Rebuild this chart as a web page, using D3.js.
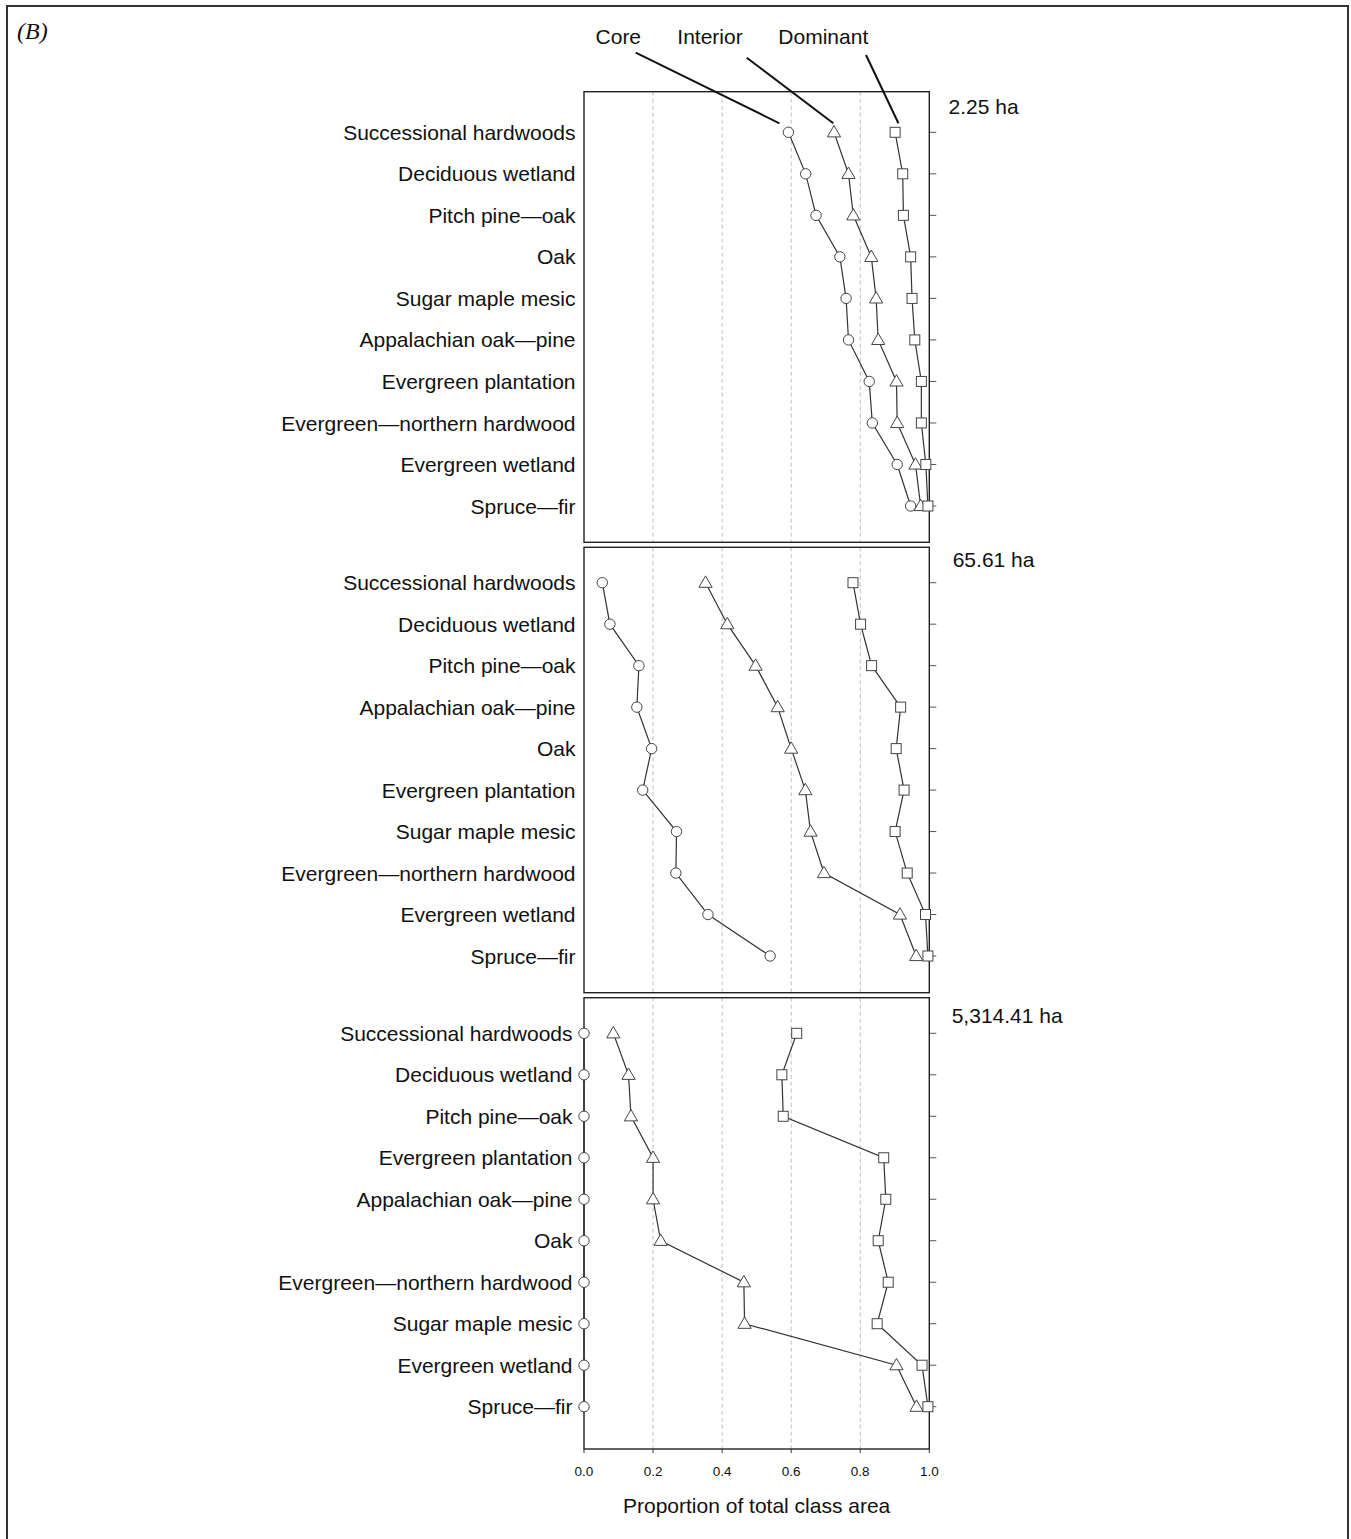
<!DOCTYPE html>
<html>
<head>
<meta charset="utf-8">
<script src="https://cdn.jsdelivr.net/npm/d3@7"></script>
<style>
  html, body { margin: 0; padding: 0; background: #fff; }
  svg { display: block; }
  text { font-family: "Liberation Sans", Arial, Helvetica, sans-serif; fill: #111; }
</style>
</head>
<body>
<svg id="chart" width="1351" height="1539"></svg>
<script>
// ---------------- DATA ----------------
const seriesNames = ["Core", "Interior", "Dominant"];
const panelLabels = ["2.25 ha", "65.61 ha", "5,314.41 ha"];
const xTicks = [0.0, 0.2, 0.4, 0.6, 0.8, 1.0];
const gridValues = [0.2, 0.4, 0.6, 0.8];

const categoriesA = ["Successional hardwoods", "Deciduous wetland", "Pitch pine\u2014oak", "Oak",
  "Sugar maple mesic", "Appalachian oak\u2014pine", "Evergreen plantation",
  "Evergreen\u2014northern hardwood", "Evergreen wetland", "Spruce\u2014fir"];
const coreA     = [0.592, 0.642, 0.672, 0.741, 0.759, 0.766, 0.826, 0.835, 0.907, 0.946];
const interiorA = [0.724, 0.766, 0.780, 0.832, 0.846, 0.852, 0.905, 0.907, 0.960, 0.975];
const dominantA = [0.901, 0.923, 0.925, 0.946, 0.950, 0.958, 0.977, 0.977, 0.990, 0.996];

const categoriesB = ["Successional hardwoods", "Deciduous wetland", "Pitch pine\u2014oak",
  "Appalachian oak\u2014pine", "Oak", "Evergreen plantation", "Sugar maple mesic",
  "Evergreen\u2014northern hardwood", "Evergreen wetland", "Spruce\u2014fir"];
const coreB     = [0.053, 0.075, 0.159, 0.153, 0.196, 0.170, 0.268, 0.266, 0.359, 0.539];
const interiorB = [0.352, 0.415, 0.497, 0.561, 0.600, 0.641, 0.656, 0.695, 0.915, 0.962];
const dominantB = [0.779, 0.801, 0.833, 0.917, 0.904, 0.927, 0.901, 0.936, 0.989, 0.996];

const categoriesC = ["Successional hardwoods", "Deciduous wetland", "Pitch pine\u2014oak",
  "Evergreen plantation", "Appalachian oak\u2014pine", "Oak", "Evergreen\u2014northern hardwood",
  "Sugar maple mesic", "Evergreen wetland", "Spruce\u2014fir"];
const coreC     = [0, 0, 0, 0, 0, 0, 0, 0, 0, 0];
const interiorC = [0.085, 0.129, 0.136, 0.200, 0.200, 0.222, 0.463, 0.465, 0.905, 0.963];
const dominantC = [0.616, 0.573, 0.577, 0.868, 0.874, 0.852, 0.881, 0.849, 0.979, 0.996];

// ---------------- LAYOUT ----------------
const panels = [
  { label: panelLabels[0], cats: categoriesA, series: [coreA, interiorA, dominantA],
    top: 91.7, bottom: 542.3, first: 132.3, last: 506.0, labelX: 948.5, labelY: 114.3, catRight: 575.5 },
  { label: panelLabels[1], cats: categoriesB, series: [coreB, interiorB, dominantB],
    top: 547.3, bottom: 992.7, first: 582.7, last: 956.0, labelX: 952.7, labelY: 566.7, catRight: 575.5 },
  { label: panelLabels[2], cats: categoriesC, series: [coreC, interiorC, dominantC],
    top: 997.7, bottom: 1449.0, first: 1033.3, last: 1406.7, labelX: 951.7, labelY: 1023.3, catRight: 572.5 }
];

const svg = d3.select("#chart");
const x = d3.scaleLinear().domain([0, 1]).range([584, 929.3]);

// outer figure border
svg.append("rect").attr("x", 7).attr("y", 6).attr("width", 1341).attr("height", 1545)
  .attr("fill", "none").attr("stroke", "#333").attr("stroke-width", 2);

svg.append("text").attr("x", 17).attr("y", 39)
  .style("font-family", "'Liberation Serif', 'Times New Roman', serif")
  .style("font-style", "italic").style("font-size", "24px").text("(B)");

const triPath = "M0,-6.8L6.6,4.6L-6.6,4.6Z";

function drawMarker(g, kind, cx, cy) {
  if (kind === 0) {
    g.append("circle").attr("cx", cx).attr("cy", cy).attr("r", 5.2)
      .attr("fill", "#fff").attr("stroke", "#444").attr("stroke-width", 1);
  } else if (kind === 1) {
    g.append("path").attr("d", triPath).attr("transform", `translate(${cx},${cy})`)
      .attr("fill", "#fff").attr("stroke", "#444").attr("stroke-width", 1);
  } else {
    g.append("rect").attr("x", cx - 5).attr("y", cy - 5).attr("width", 10).attr("height", 10)
      .attr("fill", "#fff").attr("stroke", "#444").attr("stroke-width", 1);
  }
}

panels.forEach((p, pi) => {
  const g = svg.append("g");
  const y = d3.scalePoint().domain(p.cats).range([p.first, p.last]);
  p.y = y;

  // grid
  g.selectAll("line.grid").data(gridValues).enter().append("line")
    .attr("x1", d => x(d)).attr("x2", d => x(d))
    .attr("y1", p.top).attr("y2", p.bottom)
    .attr("stroke", "#b8b8b8").attr("stroke-width", 0.9).attr("stroke-dasharray", "4,3");

  // right ticks
  g.selectAll("line.rt").data(p.cats).enter().append("line")
    .attr("x1", x(1)).attr("x2", x(1) + 7)
    .attr("y1", d => y(d)).attr("y2", d => y(d))
    .attr("stroke", "#555").attr("stroke-width", 1);

  // category labels
  g.selectAll("text.cat").data(p.cats).enter().append("text")
    .attr("x", p.catRight).attr("y", d => y(d)).attr("dy", "0.36em")
    .attr("text-anchor", "end").style("font-size", "21px").text(d => d);

  // panel label
  g.append("text").attr("x", p.labelX).attr("y", p.labelY)
    .style("font-size", "21px").text(p.label);

  // series lines
  const line = d3.line().x(d => x(d.v)).y(d => y(d.c));
  p.series.forEach((vals, si) => {
    const pts = vals.map((v, i) => ({ v, c: p.cats[i] }));
    g.append("path").attr("d", line(pts)).attr("fill", "none")
      .attr("stroke", "#333").attr("stroke-width", 1.2);
  });

  // frame
  g.append("rect").attr("x", x(0)).attr("y", p.top)
    .attr("width", x(1) - x(0)).attr("height", p.bottom - p.top)
    .attr("fill", "none").attr("stroke", "#222").attr("stroke-width", 1.4);

  // markers
  p.series.forEach((vals, si) => {
    vals.forEach((v, i) => drawMarker(g, si, x(v), y(p.cats[i])));
  });
});

// bottom axis
const last = panels[2];
const axG = svg.append("g");
axG.selectAll("line.bt").data(xTicks).enter().append("line")
  .attr("x1", d => x(d)).attr("x2", d => x(d))
  .attr("y1", last.bottom).attr("y2", last.bottom + 4)
  .attr("stroke", "#333").attr("stroke-width", 1);
axG.selectAll("text.bt").data(xTicks).enter().append("text")
  .attr("x", d => x(d)).attr("y", 1476).attr("text-anchor", "middle")
  .style("font-size", "13.5px").text(d => d3.format(".1f")(d));
svg.append("text").attr("x", (x(0) + x(1)) / 2).attr("y", 1512.5)
  .attr("text-anchor", "middle").style("font-size", "21px")
  .text("Proportion of total class area");

// series key with leader lines
const p0 = panels[0];
const keyLabelX = [618.3, 710.0, 823.3];
const keyStart = [[635.7, 52.7], [746.7, 57.7], [866.0, 55.0]];
const keyEndOffset = [[-9, -9], [-0.7, -9], [3.3, -9]];
seriesNames.forEach((name, si) => {
  svg.append("text").attr("x", keyLabelX[si]).attr("y", 44.3)
    .attr("text-anchor", "middle").style("font-size", "21px").text(name);
  const ex = x(p0.series[si][0]) + keyEndOffset[si][0];
  const ey = p0.y(p0.cats[0]) + keyEndOffset[si][1];
  svg.append("line").attr("x1", keyStart[si][0]).attr("y1", keyStart[si][1])
    .attr("x2", ex).attr("y2", ey).attr("stroke", "#111").attr("stroke-width", 2);
});
</script>
</body>
</html>
